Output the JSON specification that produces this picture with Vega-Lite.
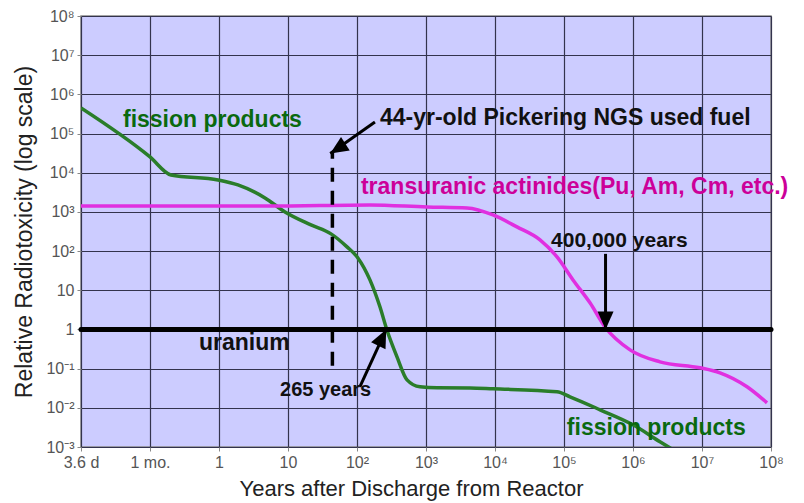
{
  "$schema": "https://vega.github.io/schema/vega-lite/v6.json",
  "width": 690,
  "height": 431,
  "autosize": {"type": "none"},
  "padding": {"left": 81, "top": 16, "right": 33, "bottom": 56},
  "background": "white",
  "config": {
    "view": {"fill": "#ccccff", "stroke": "#888888", "strokeWidth": 1.5},
    "axis": {
      "labelFont": "Liberation Sans",
      "titleFont": "Liberation Sans",
      "labelColor": "#555555",
      "titleColor": "#222222",
      "titleFontWeight": "normal",
      "gridColor": "#33334d",
      "gridWidth": 1.2,
      "gridOpacity": 1,
      "domain": false,
      "tickColor": "#888888",
      "tickSize": 4
    }
  },
  "resolve": {"scale": {"color": "independent"}},
  "datasets": {
    "curves": [
      {"series": "fission", "years": 0.01, "tox": 450000},
      {"series": "fission", "years": 0.1, "tox": 25300},
      {"series": "fission", "years": 0.201, "tox": 8790},
      {"series": "fission", "years": 0.97, "tox": 6550},
      {"series": "fission", "years": 1.88, "tox": 4890},
      {"series": "fission", "years": 4.64, "tox": 2280},
      {"series": "fission", "years": 9.05, "tox": 1000},
      {"series": "fission", "years": 21.5, "tox": 466},
      {"series": "fission", "years": 42, "tox": 275},
      {"series": "fission", "years": 71.6, "tox": 128},
      {"series": "fission", "years": 103, "tox": 67},
      {"series": "fission", "years": 154, "tox": 18.4},
      {"series": "fission", "years": 215, "tox": 3.78},
      {"series": "fission", "years": 270, "tox": 1.0},
      {"series": "fission", "years": 380, "tox": 0.2},
      {"series": "fission", "years": 531, "tox": 0.0518},
      {"series": "fission", "years": 818, "tox": 0.0344},
      {"series": "fission", "years": 1443, "tox": 0.0324},
      {"series": "fission", "years": 4345, "tox": 0.0322},
      {"series": "fission", "years": 9350, "tox": 0.0306},
      {"series": "fission", "years": 79200, "tox": 0.0256},
      {"series": "fission", "years": 122000, "tox": 0.0191},
      {"series": "fission", "years": 333000, "tox": 0.0089},
      {"series": "fission", "years": 1000000, "tox": 0.00368},
      {"series": "fission", "years": 2460000, "tox": 0.00136},
      {"series": "fission", "years": 6700000, "tox": 0.00047},
      {"series": "actinides", "years": 0.01, "tox": 1420},
      {"series": "actinides", "years": 5.48, "tox": 1420},
      {"series": "actinides", "years": 154, "tox": 1510},
      {"series": "actinides", "years": 1030, "tox": 1340},
      {"series": "actinides", "years": 3930, "tox": 1265},
      {"series": "actinides", "years": 9350, "tox": 838},
      {"series": "actinides", "years": 20800, "tox": 414},
      {"series": "actinides", "years": 44900, "tox": 193},
      {"series": "actinides", "years": 79200, "tox": 71},
      {"series": "actinides", "years": 135000, "tox": 18.4},
      {"series": "actinides", "years": 238000, "tox": 4.78},
      {"series": "actinides", "years": 393000, "tox": 1.16},
      {"series": "actinides", "years": 906000, "tox": 0.302},
      {"series": "actinides", "years": 2460000, "tox": 0.149},
      {"series": "actinides", "years": 9350000, "tox": 0.105},
      {"series": "actinides", "years": 18200000, "tox": 0.078},
      {"series": "actinides", "years": 44900000, "tox": 0.0344},
      {"series": "actinides", "years": 87500000, "tox": 0.0134}
    ],
    "arrows": [
      {"name": "pickering", "x": 182, "y": 198000, "x2": 41, "y2": 31000, "angle": 57},
      {"name": "265", "x": 110, "y": 0.0344, "x2": 265, "y2": 1, "angle": 206},
      {"name": "400k", "x": 400000, "y": 85, "x2": 400000, "y2": 1, "angle": 0}
    ],
    "labels": [
      {"text": "fission products", "x": 0.0406, "y": 222000, "kind": "green", "size": 23},
      {"text": "44-yr-old Pickering NGS used fuel", "x": 215, "y": 250000, "kind": "black", "size": 23},
      {"text": "transuranic  actinides(Pu, Am, Cm, etc.)", "x": 114, "y": 4350, "kind": "magenta", "size": 23},
      {"text": "400,000 years", "x": 64900, "y": 182, "kind": "black", "size": 21},
      {"text": "uranium", "x": 0.513, "y": 0.455, "kind": "black", "size": 23},
      {"text": "265 years", "x": 7.66, "y": 0.0288, "kind": "black", "size": 20},
      {"text": "fission products", "x": 110000, "y": 0.00309, "kind": "green", "size": 23}
    ]
  },
  "encoding": {
    "x": {
      "field": "years",
      "type": "quantitative",
      "scale": {"type": "log", "domain": [0.01, 100000000], "nice": false},
      "axis": {
        "title": "Years after Discharge from Reactor",
        "titleFontSize": 22,
        "titlePadding": 8,
        "titleX": 330,
        "labelFontSize": 16,
        "labelPadding": 3,
        "values": [0.01, 0.1, 1, 10, 100, 1000, 10000, 100000, 1000000, 10000000, 100000000],
        "labelExpr": "['3.6 d','1 mo.','1','10','10²','10³','10⁴','10⁵','10⁶','10⁷','10⁸'][round(log(datum.value)/LN10)+2]",
        "labelOverlap": false,
        "labelFlush": false
      }
    },
    "y": {
      "field": "tox",
      "type": "quantitative",
      "scale": {"type": "log", "domain": [0.001, 100000000], "nice": false},
      "axis": {
        "title": "Relative Radiotoxicity (log scale)",
        "titleFontSize": 23,
        "titlePadding": 9,
        "labelFontSize": 16,
        "labelPadding": 3,
        "values": [0.001, 0.01, 0.1, 1, 10, 100, 1000, 10000, 100000, 1000000, 10000000, 100000000],
        "labelExpr": "['10⁻³','10⁻²','10⁻¹','1','10','10²','10³','10⁴','10⁵','10⁶','10⁷','10⁸'][round(log(datum.value)/LN10)+3]",
        "labelOverlap": false,
        "labelFlush": false
      }
    }
  },
  "layer": [
    {
      "data": {"name": "curves"},
      "mark": {"type": "line", "interpolate": "monotone", "strokeWidth": 3.5, "clip": true},
      "encoding": {
        "detail": {"field": "series"},
        "color": {
          "field": "series",
          "type": "nominal",
          "scale": {"domain": ["fission", "actinides"], "range": ["#2a7d2a", "#e030e0"]},
          "legend": null
        }
      }
    },
    {
      "data": {"values": [{"years": 0.01, "x2": 100000000, "tox": 1}]},
      "mark": {"type": "rule", "strokeWidth": 5, "color": "black", "strokeCap": "round"},
      "encoding": {"x2": {"field": "x2"}}
    },
    {
      "data": {"values": [{"years": 44, "tox": 0.118, "y2": 32000}]},
      "mark": {"type": "rule", "strokeWidth": 3.5, "color": "black", "strokeDash": [14, 9]},
      "encoding": {"y2": {"field": "y2"}}
    },
    {
      "data": {"name": "arrows"},
      "mark": {"type": "rule", "strokeWidth": 3, "color": "black"},
      "encoding": {
        "x": {"field": "x", "type": "quantitative"},
        "y": {"field": "y", "type": "quantitative"},
        "x2": {"field": "x2"},
        "y2": {"field": "y2"}
      }
    },
    {
      "data": {"name": "arrows"},
      "mark": {"type": "point", "shape": "M-0.8,-1.8 L0.8,-1.8 L0,0 Z", "size": 400, "filled": true, "color": "black", "opacity": 1, "strokeWidth": 0},
      "encoding": {
        "x": {"field": "x2", "type": "quantitative"},
        "y": {"field": "y2", "type": "quantitative"},
        "angle": {"field": "angle", "type": "quantitative", "scale": null}
      }
    },
    {
      "data": {"name": "labels"},
      "mark": {"type": "text", "align": "left", "baseline": "middle", "font": "Liberation Sans", "fontWeight": "bold"},
      "encoding": {
        "x": {"field": "x", "type": "quantitative"},
        "y": {"field": "y", "type": "quantitative"},
        "text": {"field": "text"},
        "size": {"field": "size", "type": "quantitative", "scale": null},
        "color": {
          "field": "kind",
          "type": "nominal",
          "scale": {"domain": ["green", "black", "magenta"], "range": ["#0a690f", "#111111", "#cc0099"]},
          "legend": null
        }
      }
    }
  ]
}
